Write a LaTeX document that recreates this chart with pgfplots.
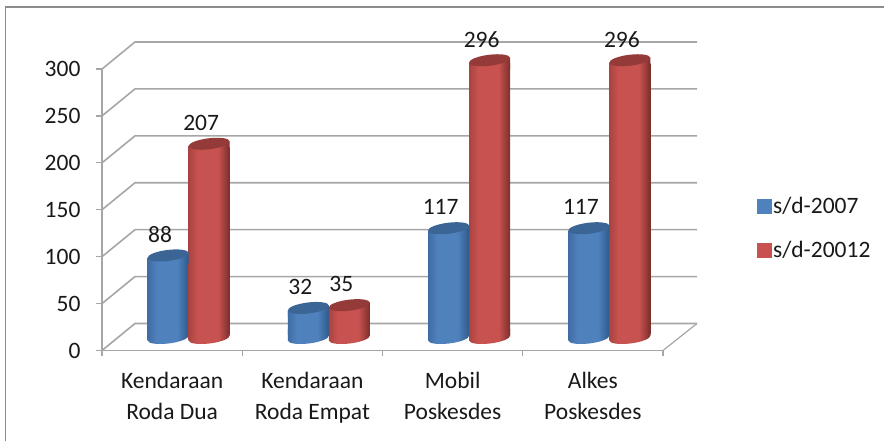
\documentclass[border=0pt]{standalone}
\usepackage{pgfplots}
\usepackage{pgfplotstable}
\pgfplotsset{compat=1.18}
\usepackage{fontspec}
\setmainfont{Carlito}
\definecolor{gridc}{HTML}{A6A6A6}
\definecolor{framec}{HTML}{8C8C8C}
\definecolor{blueL}{HTML}{3F6CA3}
\definecolor{blueD}{HTML}{2E5A8C}
\definecolor{blueM}{HTML}{4F81BD}
\definecolor{blueT}{HTML}{3A6594}
\definecolor{redL}{HTML}{A84441}
\definecolor{redD}{HTML}{7A2E2C}
\definecolor{redM}{HTML}{C8524F}
\definecolor{redT}{HTML}{943B39}
\pgfdeclarehorizontalshading{cylblue}{100bp}{color(0bp)=(blueL);color(25bp)=(blueL);color(36bp)=(blueM);color(61bp)=(blueM);color(75bp)=(blueD);color(100bp)=(blueD)}
\pgfdeclarehorizontalshading{cylred}{100bp}{color(0bp)=(redL);color(25bp)=(redL);color(36bp)=(redM);color(61bp)=(redM);color(75bp)=(redD);color(100bp)=(redD)}
% top and foot of a cylinder, slightly tilted like the 3D bars
\newcommand{\cylmarks}[3]{%
 \pgfdeclareplotmark{top#1}{%
  \path[draw=none,shade,shading=#2] (-20.5pt,-2.5pt)--(20.5pt,2.5pt)--(20.5pt,-9pt)--(-20.5pt,-9pt)--cycle;
  \path[draw=none,fill=#3] (0,0) ellipse[x radius=20.7pt,y radius=5.5pt,rotate=7];}
 \pgfdeclareplotmark{foot#1}{%
  \path[draw=none,shade,shading=#2] (-20.5pt,-2.5pt)--(20.5pt,2.5pt)--(20.5pt,9pt)--(-20.5pt,9pt)--cycle;
  \path[draw=none,shade,shading=#2] (0,0) ellipse[x radius=20.7pt,y radius=5.5pt,rotate=7];}
}
\cylmarks{b}{cylblue}{blueT}
\cylmarks{r}{cylred}{redT}
\pgfplotstableread{
x v1 v2
0 88 207
1 32 35
2 117 296
3 117 296
}\datatable
\begin{document}
\begin{tikzpicture}[x=1pt,y=1pt,font=\fontsize{23.5}{31}\selectfont]
\useasboundingbox (0,0) rectangle (884,441);
\draw[framec,line width=1.6pt] (5.5,0) -- (5.5,434) -- (884,434);
\begin{axis}[
 at={(102pt,90.5pt)},anchor=origin,
 scale only axis,width=561pt,height=281.5pt,
 xmin=0,xmax=4,ymin=0,ymax=300,clip=false,
 axis lines=left,axis line style={gridc,line width=1.2pt,-},
 ytick={0,50,...,300},xtick={0,1,2,3,4},
 x tick label as interval,
 xticklabels={Kendaraan\\Roda Dua,Kendaraan\\Roda Empat,Mobil\\Poskesdes,Alkes\\Poskesdes},
 x tick label style={align=center,text=black!90,yshift=-12.5pt},
 tick style={gridc,line width=1.2pt},
 tick align=outside,major tick length=6pt,
 y tick label style={text=black!90,xshift=-12pt},
 /pgf/number format/assume math mode=true,
 legend cell align=left,
 legend style={draw=none,fill=none,at={(axis cs:4.668,165)},anchor=north west,
  inner sep=0pt,outer sep=0pt,
  /tikz/every even column/.append style={column sep=8pt},
  row sep=22pt,text=black!90},
 legend image code/.code={\fill[#1] (0pt,-6.5pt) rectangle (14pt,7.5pt);},
 every node near coord/.append style={anchor=center,xshift=-8pt,yshift=21pt,text=black!90}]
% walls
\pgfplotsinvokeforeach{0,50,...,300}{
 \draw[gridc,line width=1.6pt] (axis cs:0,#1) -- ++(33pt,27pt) -- ++(562pt,0pt);
}
\draw[gridc,line width=1.2pt] (axis cs:4,0) -- ++(34pt,27pt);
% one plot per cylinder, so that each has its own shading
\pgfplotsinvokeforeach{0,1,2,3}{
 \addplot[forget plot,only marks,mark=footb,xshift=-4pt,yshift=12.5pt,restrict x to domain=#1.4:#1.6]
  table[x expr=\thisrow{x}+0.5,y expr=0] {\datatable};
 \addplot[forget plot,ybar,bar width=41pt,bar shift=0pt,draw=none,shade,shading=cylblue,xshift=-4pt,yshift=15.5pt,y filter/.expression={y-7},restrict x to domain=#1.4:#1.6]
  table[x expr=\thisrow{x}+0.5,y=v1] {\datatable};
 \addplot[forget plot,only marks,mark=topb,xshift=-4pt,yshift=12.5pt,nodes near coords,restrict x to domain=#1.4:#1.6]
  table[x expr=\thisrow{x}+0.5,y=v1] {\datatable};
 \addplot[forget plot,only marks,mark=footr,xshift=37pt,yshift=12.5pt,restrict x to domain=#1.4:#1.6]
  table[x expr=\thisrow{x}+0.5,y expr=0] {\datatable};
 \addplot[forget plot,ybar,bar width=41pt,bar shift=0pt,draw=none,shade,shading=cylred,xshift=37pt,yshift=15.5pt,y filter/.expression={y-7},restrict x to domain=#1.4:#1.6]
  table[x expr=\thisrow{x}+0.5,y=v2] {\datatable};
 \addplot[forget plot,only marks,mark=topr,xshift=37pt,yshift=12.5pt,nodes near coords,restrict x to domain=#1.4:#1.6]
  table[x expr=\thisrow{x}+0.5,y=v2] {\datatable};
}
\addlegendimage{blueM}\addlegendentry{s/d-2007}
\addlegendimage{redM}\addlegendentry{s/d-20012}
\end{axis}
\end{tikzpicture}
\end{document}
